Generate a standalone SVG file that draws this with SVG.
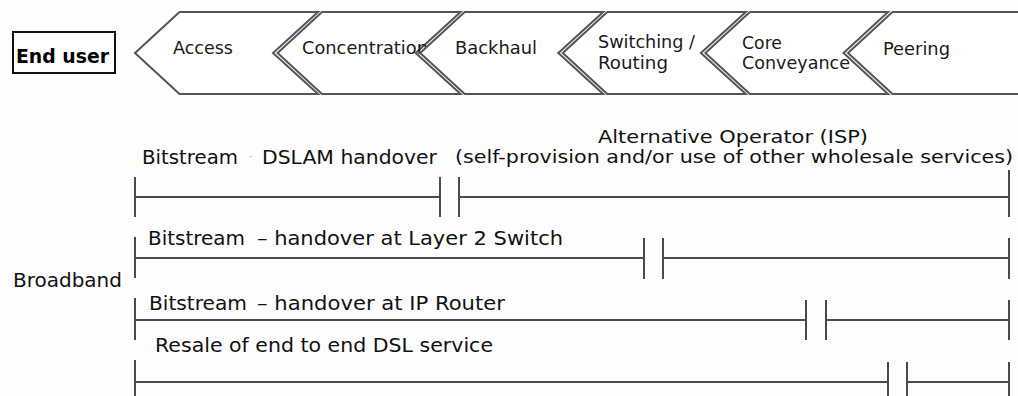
<svg xmlns="http://www.w3.org/2000/svg" width="1018" height="396" viewBox="0 0 1018 396">
<style>
.bg{fill:#fdfdfd}
.chev{fill:#ffffff;stroke:#555;stroke-width:2;stroke-linejoin:miter}
.box{fill:#ffffff;stroke:#111;stroke-width:2}
.t{font-family:"DejaVu Sans","Liberation Sans",sans-serif;font-size:17.5px;fill:#1a1a1a}
.b{font-family:"DejaVu Sans","Liberation Sans",sans-serif;font-size:19.5px;font-weight:bold;fill:#000}
.l{font-family:"DejaVu Sans","Liberation Sans",sans-serif;font-size:19px;fill:#111}
.s{font-family:"DejaVu Sans","Liberation Sans",sans-serif;font-size:17px;fill:#111}
.br{stroke:#4a4a4a;stroke-width:2;fill:none}
</style>
<rect class="bg" x="0" y="0" width="1018" height="396"/>
<g id="end-user">
<rect class="box" x="13" y="32" width="102" height="41"/>
<text class="b" x="16" y="63" textLength="93" lengthAdjust="spacingAndGlyphs">End user</text>
</g>
<g id="access">
<polygon class="chev" points="135,53 179.5,12 318,12 273,53 318,94 179.5,94"/>
<text class="t" x="173" y="54" textLength="60" lengthAdjust="spacingAndGlyphs">Access</text>
</g>
<g id="concentration">
<polygon class="chev" points="277.6,53 322,12 460.6,12 415.7,53 460.6,94 322,94"/>
<text class="t" x="302" y="54" textLength="126" lengthAdjust="spacingAndGlyphs">Concentration</text>
</g>
<g id="backhaul">
<polygon class="chev" points="420.2,53 464.7,12 603.2,12 558.3,53 603.2,94 464.7,94"/>
<text class="t" x="455" y="54" textLength="82" lengthAdjust="spacingAndGlyphs">Backhaul</text>
</g>
<g id="switching">
<polygon class="chev" points="562.8,53 607.3,12 745.8,12 700.9,53 745.8,94 607.3,94"/>
<text class="t" x="598" y="47.5" textLength="97" lengthAdjust="spacingAndGlyphs">Switching /</text>
<text class="t" x="598" y="69" textLength="70" lengthAdjust="spacingAndGlyphs">Routing</text>
</g>
<g id="core">
<polygon class="chev" points="705.4,53 749.9,12 888,12 843.5,53 888,94 749.9,94"/>
<text class="t" x="742" y="49" textLength="40" lengthAdjust="spacingAndGlyphs">Core</text>
<text class="t" x="742" y="69" textLength="108" lengthAdjust="spacingAndGlyphs">Conveyance</text>
</g>
<g id="peering">
<polygon class="chev" points="848,53 892.5,12 1022,12 1022,94 892.5,94"/>
<text class="t" x="883" y="55" textLength="67" lengthAdjust="spacingAndGlyphs">Peering</text>
</g>
<g id="labels">
<text class="s" x="733" y="143" text-anchor="middle" textLength="270" lengthAdjust="spacingAndGlyphs">Alternative Operator (ISP)</text>
<text class="s" x="455" y="163" textLength="558" lengthAdjust="spacingAndGlyphs">(self-provision and/or use of other wholesale services)</text>
<text class="l" x="142" y="164" textLength="96" lengthAdjust="spacingAndGlyphs">Bitstream</text>
<text class="l" x="249" y="160" style="font-size:10px;fill:#999">·</text>
<text class="l" x="262" y="164" textLength="175" lengthAdjust="spacingAndGlyphs">DSLAM handover</text>
<text class="l" x="148" y="245" textLength="97" lengthAdjust="spacingAndGlyphs">Bitstream</text>
<text class="l" x="257" y="245" textLength="306" lengthAdjust="spacingAndGlyphs">– handover at Layer 2 Switch</text>
<text class="l" x="149" y="310" textLength="98" lengthAdjust="spacingAndGlyphs">Bitstream</text>
<text class="l" x="257" y="310" textLength="248" lengthAdjust="spacingAndGlyphs">– handover at IP Router</text>
<text class="l" x="155" y="352" textLength="338" lengthAdjust="spacingAndGlyphs">Resale of end to end DSL service</text>
<text class="l" x="13" y="287" textLength="109" lengthAdjust="spacingAndGlyphs">Broadband</text>
</g>
<g id="connectors">
<path class="br" d="M135,177V217M135,197H440M440,177V217"/>
<path class="br" d="M459,177V217M459,197H1009M1009,170V217"/>
<path class="br" d="M135,237V278M135,258H644M644,238V279"/>
<path class="br" d="M663,238V279M663,258H1009M1009,238V279"/>
<path class="br" d="M135,298V340M135,320H806M806,300V340"/>
<path class="br" d="M826,300V340M826,320H1009M1009,300V340"/>
<path class="br" d="M135,360V396M135,382H888M888,362V396"/>
<path class="br" d="M907,362V396M907,382H1009M1009,362V396"/>
</g>
</svg>
